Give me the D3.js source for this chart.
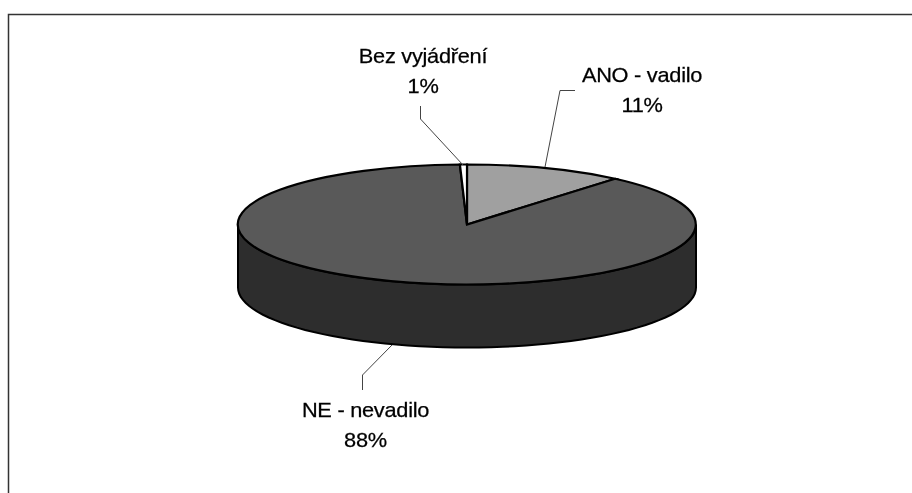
<!DOCTYPE html>
<html><head><meta charset="utf-8">
<script src="https://cdn.jsdelivr.net/npm/d3@7/dist/d3.min.js"></script>
<style>html,body{margin:0;padding:0;background:#fff}svg{display:block}
text{font-family:"Liberation Sans",Arial,sans-serif;font-size:20px;fill:#000;stroke:#000;stroke-width:.25px;text-anchor:middle;letter-spacing:-.25px}</style>
</head><body><svg width="912" height="493"></svg>
<script>
const categories=["ANO - vadilo","NE - nevadilo","Bez vyjádření"];
const values=[11.2,88.3,0.5];
const topColors=["#a0a0a0","#595959","#ffffff"];
const sideColor="#2d2d2d";
const labelPos=[[642,81.5,111.5],[365.5,416.5,447],[423,62.5,93]];
const leaders=[[[575,90.5],[560,90.5],[545,167]],[[362.5,390],[362.5,375],[392,345]],[[420.5,106],[420.5,119],[463,165]]];
const cx=467,cy=224.5,rx=229,ry=60,depth=63;
const svg=d3.select("svg");
svg.append("defs").append("filter").attr("id","soft").append("feGaussianBlur").attr("stdDeviation",0.35);
svg.append("path").attr("d","M8.5 493V14.5H912").attr("fill","none").attr("stroke","#333").attr("stroke-width",1.5);
const yScale=d3.scaleLinear().domain([-1,1]).range([cy-ry,cy+ry]);
const xScale=d3.scaleLinear().domain([-1,1]).range([cx-rx,cx+rx]);
// outer side wall: front half of the ellipse extruded downward
const front=d3.range(0,181,3).map(a=>{const t=a*Math.PI/180;return [xScale(Math.cos(t)),yScale(Math.sin(t))];});
const wall=front.concat(front.slice().reverse().map(p=>[p[0],p[1]+depth]));
svg.append("path").attr("d",d3.line()(wall)+"Z").attr("fill",sideColor).attr("stroke","#000").attr("stroke-width",2);
// top face
const pie=d3.pie().sort(null).value(d=>d);
const arc=d3.arc().innerRadius(0).outerRadius(1);
const g=svg.append("g").attr("transform",`translate(${cx},${cy}) scale(${rx},${ry})`);
g.selectAll("path").data(pie(values)).join("path").attr("d",arc)
 .attr("fill",(d,i)=>topColors[i]).attr("stroke","#000").attr("stroke-width",2.2)
 .attr("vector-effect","non-scaling-stroke");
// leaders
svg.append("g").selectAll("path").data(leaders).join("path").attr("d",d=>d3.line()(d))
 .attr("fill","none").attr("stroke","#444").attr("stroke-width",1);
// labels
const lab=svg.append("g").attr("filter","url(#soft)").selectAll("g").data(categories).join("g");
lab.append("text").attr("transform",(d,i)=>`translate(${labelPos[i][0]},${labelPos[i][1]}) scale(1.09,1)`).text(d=>d);
lab.append("text").attr("transform",(d,i)=>`translate(${labelPos[i][0]},${labelPos[i][2]}) scale(1.09,1)`).text((d,i)=>Math.round(values[i])+"%");
</script></body></html>
